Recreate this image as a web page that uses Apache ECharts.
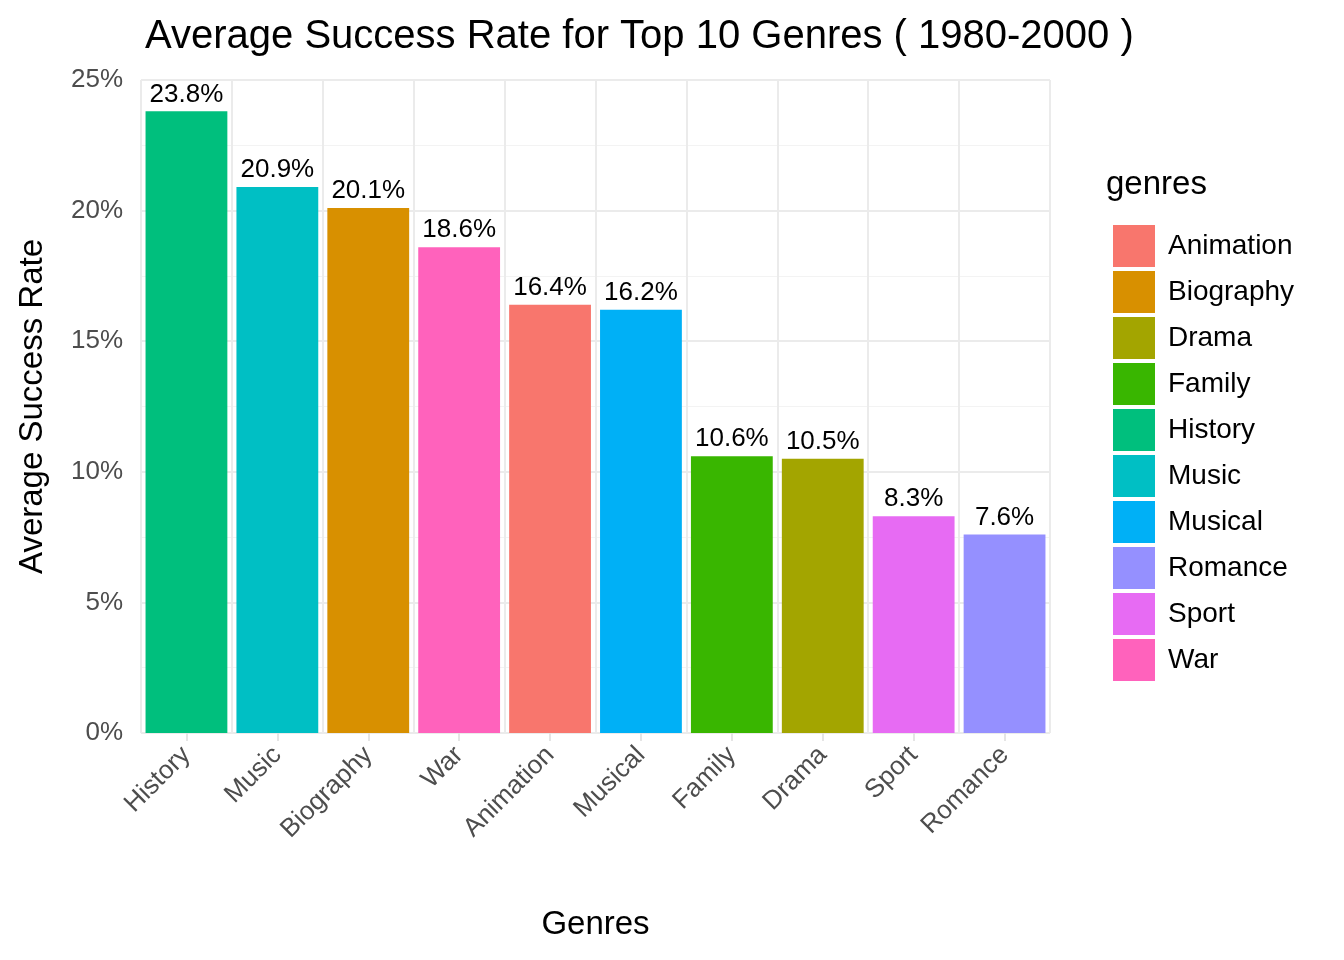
<!DOCTYPE html>
<html>
<head>
<meta charset="utf-8">
<script src="https://cdn.jsdelivr.net/npm/echarts@6/dist/echarts.min.js"></script>
<style>html,body{margin:0;padding:0;background:#fff}#main{width:1344px;height:960px}</style>
</head>
<body>
<div id="main"></div>
<script>
// 数据
var categories = ['History', 'Music', 'Biography', 'War', 'Animation', 'Musical', 'Family', 'Drama', 'Sport', 'Romance'];
var values = [23.8, 20.9, 20.1, 18.6, 16.4, 16.2, 10.6, 10.5, 8.3, 7.6];
var legendOrder = ['Animation', 'Biography', 'Drama', 'Family', 'History', 'Music', 'Musical', 'Romance', 'Sport', 'War'];
var genreColors = {
    Animation: '#F8766D', Biography: '#D89000', Drama: '#A3A500', Family: '#39B600', History: '#00BF7D',
    Music: '#00BFC4', Musical: '#00B0F6', Romance: '#9590FF', Sport: '#E76BF3', War: '#FF62BC'
};

var chart = echarts.init(document.getElementById('main'));
var font = 'Liberation Sans, Arial, sans-serif';

var series = legendOrder.map(function (g) {
    var idx = categories.indexOf(g);
    return {
        name: g,
        type: 'bar',
        stack: 'all',
        barWidth: '90%',
        itemStyle: {color: genreColors[g]},
        label: {
            show: true, position: 'top', distance: 4, color: '#000', fontSize: 26, fontFamily: font,
            formatter: function (p) { return p.value == null ? '' : p.value.toFixed(1) + '%'; }
        },
        data: categories.map(function (c, i) { return i === idx ? values[i] : null; })
    };
});

chart.setOption({
    backgroundColor: '#fff',
    animation: false,
    title: {
        text: 'Average Success Rate for Top 10 Genres ( 1980-2000 )',
        left: 140, top: 12,
        textStyle: {fontSize: 40, fontWeight: 'normal', color: '#000', fontFamily: font}
    },
    legend: {
        data: legendOrder,
        orient: 'vertical',
        left: 1108, top: 220,
        itemWidth: 42, itemHeight: 42, itemGap: 4,
        icon: 'rect',
        textStyle: {fontSize: 28, color: '#000', fontFamily: font, padding: [0, 0, 0, 8]}
    },
    graphic: [{
        type: 'text', left: 1106, top: 168,
        style: {text: 'genres', fontSize: 33, fill: '#000', fontFamily: font}
    }],
    grid: {left: 141, right: 294, top: 80, bottom: 227},
    xAxis: {
        type: 'category',
        data: categories,
        name: 'Genres',
        nameLocation: 'middle',
        nameGap: 175,
        nameTextStyle: {fontSize: 33, color: '#000', fontFamily: font},
        axisLine: {show: false},
        axisTick: {show: true, alignWithLabel: true, length: 8, lineStyle: {color: '#e5e5e5', width: 2}},
        axisLabel: {rotate: 45, fontSize: 26, color: '#4d4d4d', fontFamily: font, margin: 18, interval: 0},
        splitLine: {show: true, interval: 0, lineStyle: {color: '#ebebeb', width: 2}}
    },
    yAxis: {
        type: 'value',
        min: 0, max: 25, interval: 5,
        name: 'Average Success Rate',
        nameLocation: 'middle',
        nameGap: 92,
        nameTextStyle: {fontSize: 33, color: '#000', fontFamily: font},
        axisLabel: {formatter: '{value}%', fontSize: 26, color: '#4d4d4d', fontFamily: font, margin: 18},
        splitLine: {lineStyle: {color: '#ebebeb', width: 2}},
        minorTick: {show: false, splitNumber: 2},
        minorSplitLine: {show: true, lineStyle: {color: '#f3f3f3', width: 1}}
    },
    series: series
});
</script>
</body>
</html>
